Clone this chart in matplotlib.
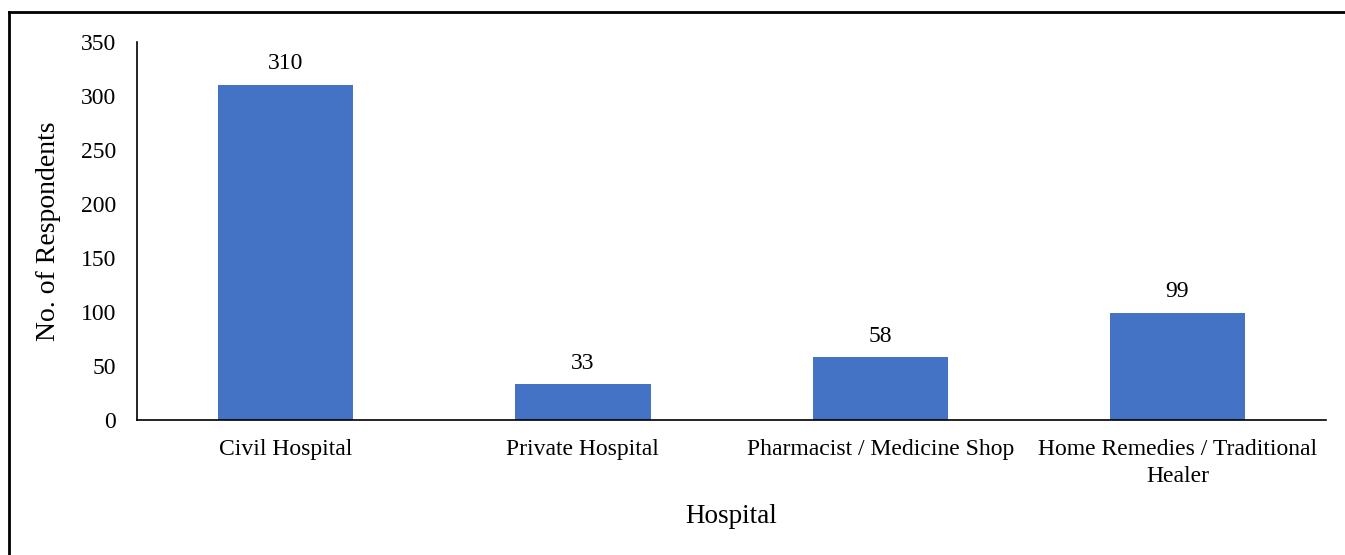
import matplotlib.pyplot as plt
from matplotlib.lines import Line2D

# Where respondents went for treatment
categories = ['Civil Hospital', 'Private Hospital', 'Pharmacist / Medicine Shop',
              'Home Remedies / Traditional\nHealer']
respondents = [310, 33, 58, 99]
y_ticks = [0, 50, 100, 150, 200, 250, 300, 350]

plt.rcParams['font.family'] = 'Liberation Serif'

fig = plt.figure(figsize=(13.45, 5.55), dpi=100)
ax = fig.add_axes([0.1019, 0.2432, 0.884, 0.6811])

x = range(len(categories))
bars = ax.bar(x, respondents, width=0.455, color='#4472C4')

for b, v in zip(bars, respondents):
    ax.text(b.get_x() + b.get_width() / 2, v + 10, str(v),
            ha='center', va='bottom', fontsize=17)

ax.set_xlim(-0.5, 3.5)
ax.set_ylim(0, 350)
ax.set_yticks(y_ticks)
ax.set_xticks(list(x))
ax.set_xticklabels(categories, fontsize=17, linespacing=1.35)
ax.tick_params(axis='y', labelsize=17, length=0, pad=15)
ax.tick_params(axis='x', length=0, pad=14)

ax.spines['top'].set_visible(False)
ax.spines['right'].set_visible(False)
ax.spines['left'].set_linewidth(1.2)
ax.spines['bottom'].set_linewidth(1.2)

ax.set_xlabel('Hospital', fontsize=19.5, labelpad=12)
ax.set_ylabel('No. of Respondents', fontsize=20, labelpad=14)

# frame edges (top and left) around the figure
fig.add_artist(Line2D([9 / 1345, 1.0], [1 - 12 / 555, 1 - 12 / 555],
                      transform=fig.transFigure, color='black', lw=2))
fig.add_artist(Line2D([9 / 1345, 9 / 1345], [0.0, 1 - 12 / 555],
                      transform=fig.transFigure, color='black', lw=2))

fig.savefig('out.png', dpi=100)
